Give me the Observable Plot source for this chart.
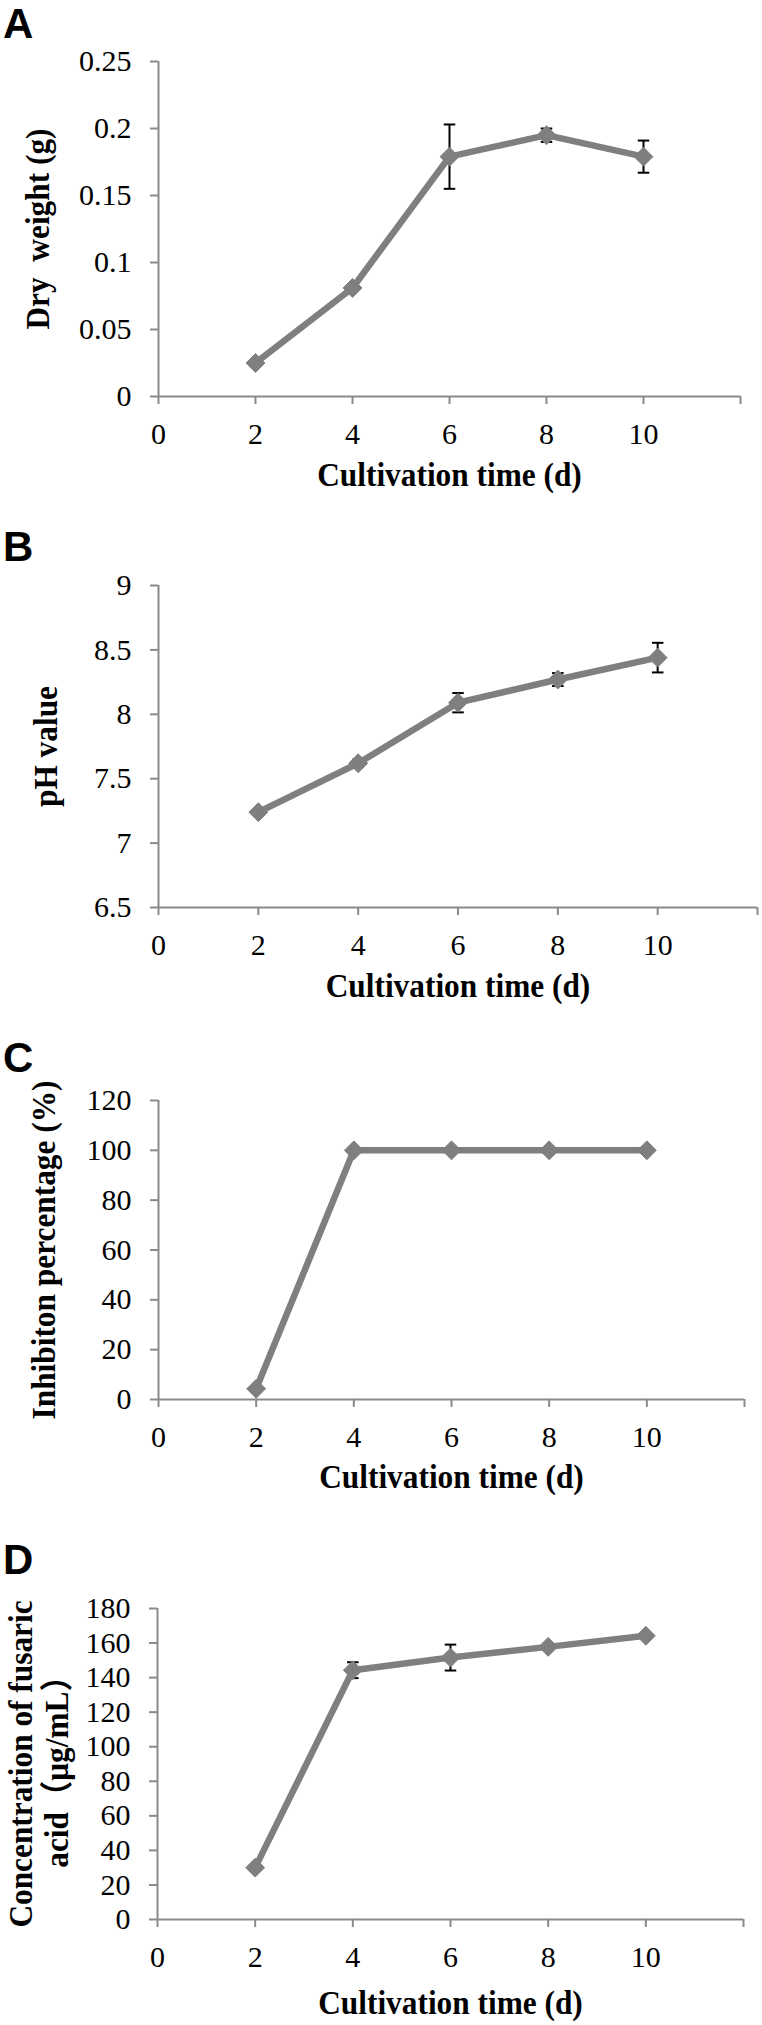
<!DOCTYPE html>
<html>
<head>
<meta charset="utf-8">
<script src="https://cdn.jsdelivr.net/npm/d3@7"></script>
<script src="https://cdn.jsdelivr.net/npm/@observablehq/plot@0.6"></script>
<style>
  body { margin: 0; background: #fff; }
  #wrap { position: relative; width: 762px; height: 2025px; overflow: hidden; background: #fff; }
  .panel { position: absolute; left: 0; }
  .panel svg { overflow: visible; }
  .letter { position: absolute; left: 3px; font: bold 42px "Liberation Sans", Arial, sans-serif; line-height: normal; color: #000; }
  g[aria-label="x-axis label"], g[aria-label="y-axis label"] { font-size: 33px; font-weight: bold; }
  text { white-space: pre; }
</style>
</head>
<body>
<div id="wrap"></div>
<script>
// ---- data ----
const days = [2, 4, 6, 8, 10];
const xTicks = [0, 2, 4, 6, 8, 10, 12];

const dryWeight = [0.025, 0.081, 0.179, 0.195, 0.179];
const dryWeightErr = [0, 0, 0.024, 0.005, 0.012];
const dryWeightTicks = [0, 0.05, 0.1, 0.15, 0.2, 0.25];

const phValue = [7.24, 7.62, 8.09, 8.27, 8.44];
const phErr = [0, 0.03, 0.075, 0.05, 0.115];
const phTicks = [6.5, 7, 7.5, 8, 8.5, 9];

const inhibition = [4.3, 100, 100, 100, 100];
const inhibitionErr = [0, 0, 0, 0, 0];
const inhibitionTicks = [0, 20, 40, 60, 80, 100, 120];

const fusaric = [30, 144.3, 151.6, 157.8, 164.2];
const fusaricErr = [0, 4.6, 7.5, 1, 1];
const fusaricTicks = [0, 20, 40, 60, 80, 100, 120, 140, 160, 180];

const xLabel = "Cultivation time (d)";

// ---- styling / layout ----
const axisColor = "#8a8a8a";
const seriesColor = "#7f7f7f";
const serif = "'Liberation Serif', 'Times New Roman', 'Noto Sans CJK SC', serif";
const titleCondense = 0.95; // axis titles use a slightly narrow bold face

const panels = [
  {letter: "A", values: dryWeight, err: dryWeightErr, ticks: dryWeightTicks, yLabel: "Dry  weight (g)",
   top: 0, height: 500, mt: 61, mb: 104, ml: 158, mr: 22, yOff: 133, xOff: 89, letterTop: 0},
  {letter: "B", values: phValue, err: phErr, ticks: phTicks, yLabel: "pH value",
   top: 500, height: 500, mt: 85, mb: 93, ml: 158, mr: 5, yOff: 125, xOff: 89, letterTop: 523},
  {letter: "C", values: inhibition, err: inhibitionErr, ticks: inhibitionTicks, yLabel: "Inhibiton percentage (%)",
   top: 1000, height: 500, mt: 100, mb: 101, ml: 158, mr: 18, yOff: 127, xOff: 88, letterTop: 1034},
  {letter: "D", values: fusaric, err: fusaricErr, ticks: fusaricTicks, yLabel: "Concentration of fusaric\nacid\uFF08\u03BCg/mL\uFF09",
   top: 1500, height: 525, mt: 108, mb: 106, ml: 157, mr: 19, yOff: 149, xOff: 94, letterTop: 1536}
];

// horizontal cap symbol for error bars
const capSymbol = {
  draw(ctx, size) {
    const w = Math.sqrt(size) / 2;
    ctx.moveTo(-w, 0);
    ctx.lineTo(w, 0);
  }
};

const wrap = document.getElementById("wrap");

for (const p of panels) {
  const data = days.map((d, i) => ({day: d, value: p.values[i], err: p.err[i]}));
  const errData = data.filter(d => d.err > 0);
  const yMin = p.ticks[0], yMax = p.ticks[p.ticks.length - 1];

  const chart = Plot.plot({
    width: 762,
    height: p.height,
    marginTop: p.mt,
    marginBottom: p.mb,
    marginLeft: p.ml,
    marginRight: p.mr,
    style: {background: "transparent", overflow: "visible", fontFamily: serif},
    x: {domain: [0, 12]},
    y: {domain: [yMin, yMax]},
    marks: [
      Plot.ruleY([yMin], {stroke: axisColor, strokeWidth: 2}),
      Plot.ruleX([0], {stroke: axisColor, strokeWidth: 2}),
      Plot.axisX({
        ticks: xTicks, tickSize: 8, tickPadding: 18,
        tickFormat: d => (d === 12 ? "" : String(d)),
        stroke: axisColor, strokeWidth: 2, fill: "#000",
        fontSize: 30, fontFamily: serif,
        label: xLabel, labelAnchor: "center", labelOffset: p.xOff, labelArrow: "none"
      }),
      Plot.axisY({
        ticks: p.ticks, tickSize: 8, tickPadding: 19,
        tickFormat: d => String(d),
        stroke: axisColor, strokeWidth: 2, fill: "#000",
        fontSize: 30, fontFamily: serif,
        label: p.yLabel, labelAnchor: "center", labelOffset: p.yOff, labelArrow: "none"
      }),
      Plot.ruleX(errData, {x: "day", y1: d => d.value - d.err, y2: d => d.value + d.err, stroke: "#000", strokeWidth: 2}),
      Plot.dot(errData, {x: "day", y: d => d.value - d.err, symbol: capSymbol, r: 6.5, stroke: "#000", strokeWidth: 2, fill: "none"}),
      Plot.dot(errData, {x: "day", y: d => d.value + d.err, symbol: capSymbol, r: 6.5, stroke: "#000", strokeWidth: 2, fill: "none"}),
      Plot.line(data, {x: "day", y: "value", stroke: seriesColor, strokeWidth: 6.5}),
      Plot.dot(data, {x: "day", y: "value", symbol: "diamond2", r: 8.5, fill: seriesColor, stroke: seriesColor, strokeWidth: 1})
    ]
  });

  // line spacing for the two-line y label
  chart.querySelectorAll('g[aria-label="y-axis label"] tspan').forEach((t, i) => {
    if (i > 0) t.setAttribute("dy", "1.1em");
  });
  // slightly narrow bold face for the axis titles, in their own reading direction
  chart.querySelectorAll('g[aria-label="x-axis label"] text, g[aria-label="y-axis label"] text').forEach(t => {
    t.setAttribute("transform", (t.getAttribute("transform") || "") + ` scale(${titleCondense},1)`);
  });

  const holder = document.createElement("div");
  holder.className = "panel";
  holder.style.top = p.top + "px";
  holder.appendChild(chart);
  wrap.appendChild(holder);

  const letter = document.createElement("div");
  letter.className = "letter";
  letter.style.top = p.letterTop + "px";
  letter.textContent = p.letter;
  wrap.appendChild(letter);
}
</script>
</body>
</html>
